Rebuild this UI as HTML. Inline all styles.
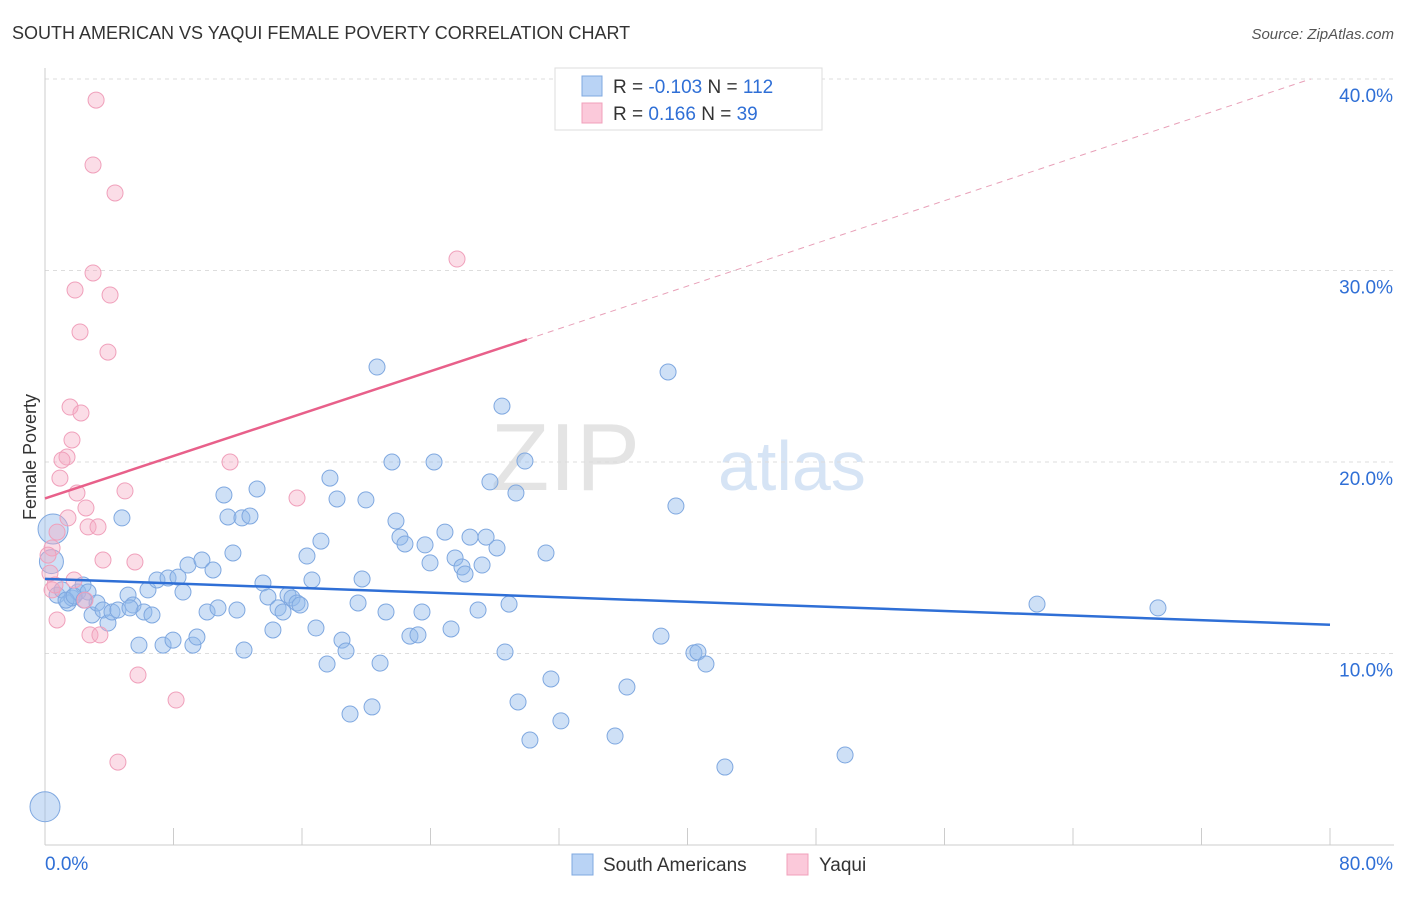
<!DOCTYPE html>
<html><head><meta charset="utf-8"><style>
body{margin:0;background:#fff;font-family:"Liberation Sans",sans-serif}
svg text{font-family:"Liberation Sans",sans-serif}
</style></head><body>
<svg id="chart" width="1406" height="892" xmlns="http://www.w3.org/2000/svg">
<text x="12" y="39" font-size="18" fill="#333">SOUTH AMERICAN VS YAQUI FEMALE POVERTY CORRELATION CHART</text>
<text x="1394" y="39" font-size="15" fill="#555" text-anchor="end" font-style="italic">Source: ZipAtlas.com</text>
<text x="640" y="490" font-size="96" fill="#e4e4e4" font-family="Liberation Serif" text-anchor="end">ZIP</text>
<text x="718" y="490" font-size="70" fill="#d6e4f5">atlas</text>
<g id="grid"></g>
<line x1="45" y1="68" x2="45" y2="845" stroke="#ccc"/>
<line x1="45" y1="845" x2="1394" y2="845" stroke="#ccc"/>
<text x="36" y="457" font-size="18" fill="#333" transform="rotate(-90 36 457)" text-anchor="middle">Female Poverty</text>
<g id="pts"></g>
<g id="lines"></g>
<g>
<rect x="555" y="68" width="267" height="62" fill="#fff" stroke="#ddd"/>
<rect x="582" y="76" width="20" height="20" fill="#b9d3f5" stroke="#7fa8e0"/>
<rect x="582" y="103" width="20" height="20" fill="#fbc9da" stroke="#f0a0bb"/>
<text x="613" y="93" font-size="19" fill="#333">R = <tspan fill="#2f6fd6">-0.103</tspan>   N = <tspan fill="#2f6fd6">112</tspan></text>
<text x="613" y="120" font-size="19" fill="#333">R =  <tspan fill="#2f6fd6"> 0.166</tspan>   N =  <tspan fill="#2f6fd6">39</tspan></text>
</g>
<g>
<rect x="572" y="854" width="21" height="21" fill="#b9d3f5" stroke="#7fa8e0"/>
<text x="603" y="871" font-size="19" fill="#333">South Americans</text>
<rect x="787" y="854" width="21" height="21" fill="#fbc9da" stroke="#f0a0bb"/>
<text x="819" y="871" font-size="19" fill="#333">Yaqui</text>
</g>
</svg>
<script>
const yTicks=[10,20,30,40];
const xTickLabels=["0.0%","80.0%"];
const blueX=[],blueY=[],pinkX=[],pinkY=[];
const bluePx=[[57,595],[62,590],[68,603],[72,598],[78,592],[83,585],[88,592],[92,615],[97,603],[103,610],[108,623],[112,612],[118,610],[122,518],[128,595],[133,605],[139,645],[144,612],[148,590],[152,615],[157,580],[163,645],[168,578],[173,640],[178,577],[183,592],[188,565],[193,645],[197,637],[202,560],[207,612],[213,570],[218,608],[224,495],[228,517],[233,553],[237,610],[242,518],[244,650],[250,516],[257,489],[263,583],[268,597],[273,630],[278,608],[283,612],[288,595],[292,598],[297,603],[300,605],[307,556],[312,580],[316,628],[321,541],[327,664],[330,478],[337,499],[342,640],[346,651],[350,714],[358,603],[362,579],[366,500],[372,707],[377,367],[380,663],[386,612],[392,462],[396,521],[400,537],[405,544],[410,636],[418,635],[422,612],[425,545],[430,563],[434,462],[445,532],[451,629],[455,558],[462,567],[465,574],[470,537],[478,610],[482,565],[486,537],[490,482],[497,548],[502,406],[505,652],[509,604],[516,493],[518,702],[525,461],[530,740],[546,553],[551,679],[561,721],[615,736],[627,687],[661,636],[668,372],[676,506],[694,653],[698,652],[706,664],[725,767],[845,755],[1037,604],[1158,608],[66,600],[74,596],[84,600],[130,608]];
const pinkPx=[[96,100],[93,165],[115,193],[93,273],[75,290],[110,295],[80,332],[108,352],[70,407],[81,413],[72,440],[67,457],[62,460],[60,478],[77,493],[86,508],[68,518],[88,527],[98,527],[57,532],[52,548],[103,560],[135,562],[50,573],[74,580],[52,590],[57,620],[90,635],[100,635],[138,675],[176,700],[118,762],[457,259],[230,462],[297,498],[125,491],[48,555],[55,585],[85,600]];
// convert read pixel positions to data values
bluePx.forEach(p=>{blueX.push(+((p[0]-45)/1285*80).toFixed(2));blueY.push(+((845-p[1])/19.15).toFixed(2));});
pinkPx.forEach(p=>{pinkX.push(+((p[0]-45)/1285*80).toFixed(2));pinkY.push(+((845-p[1])/19.15).toFixed(2));});
const blueTrend=[13.9,11.5];
const pinkTrend=[18.1,26.4,40.0];
const sx=v=>45+v/80*1285, sy=v=>845-v*19.15;
const NS="http://www.w3.org/2000/svg";
function mk(t,a,parent){const e=document.createElementNS(NS,t);for(const k in a)e.setAttribute(k,a[k]);parent.appendChild(e);return e;}
const grid=document.getElementById('grid'),svg=document.getElementById('chart');
yTicks.forEach(t=>{
 const l=mk('line',{x1:45,x2:1394,y1:sy(t),y2:sy(t),stroke:'#ddd','stroke-dasharray':'4,4'},grid);
 
 
 const tx=mk('text',{x:1393,y:sy(t)+23,'font-size':19,fill:'#2f6fd6','text-anchor':'end'},grid);
 tx.textContent=t.toFixed(1)+'%';
 
 
});
for(let i=0;i<=10;i++){
 const l=mk('line',{x1:sx(i*8),x2:sx(i*8),y1:828,y2:845,stroke:'#ccc'},grid);
 
 
}
[[0,'start',45],[1,'end',1393]].forEach(([i,a,x])=>{
 const tx=mk('text',{x:x,y:870,'font-size':19,fill:'#2f6fd6','text-anchor':a},grid);
 tx.textContent=xTickLabels[i];
 
 
});
const pts=document.getElementById('pts');
[[0,2,15],[0.5,16.5,15],[0.4,14.8,12]].forEach(b=>{
 const c=mk('circle',{cx:sx(b[0]),cy:sy(b[1]),r:b[2],fill:'rgba(147,187,235,0.45)',stroke:'#7fa8e0'},pts);
 
 
});
blueX.forEach((x,i)=>{
 const c=mk('circle',{cx:sx(x),cy:sy(blueY[i]),r:8,fill:'rgba(147,187,235,0.45)',stroke:'#7fa8e0'},pts);
 
 
});
pinkX.forEach((x,i)=>{
 const c=mk('circle',{cx:sx(x),cy:sy(pinkY[i]),r:8,fill:'rgba(244,170,195,0.4)',stroke:'#f0a0bb'},pts);
 
 
});
const lines=document.getElementById('lines');
let l=mk('line',{x1:sx(0),y1:sy(blueTrend[0]),x2:sx(80),y2:sy(blueTrend[1]),stroke:'#2f6fd6','stroke-width':2.5},lines);


l=mk('line',{x1:sx(0),y1:sy(pinkTrend[0]),x2:sx(30),y2:sy(pinkTrend[1]),stroke:'#e8608a','stroke-width':2.5},lines);


l=mk('line',{x1:sx(30),y1:sy(pinkTrend[1]),x2:sx(78.8),y2:sy(pinkTrend[2]),stroke:'#e8a0b8','stroke-width':1,'stroke-dasharray':'6,5'},lines);


</script>
</body></html>
